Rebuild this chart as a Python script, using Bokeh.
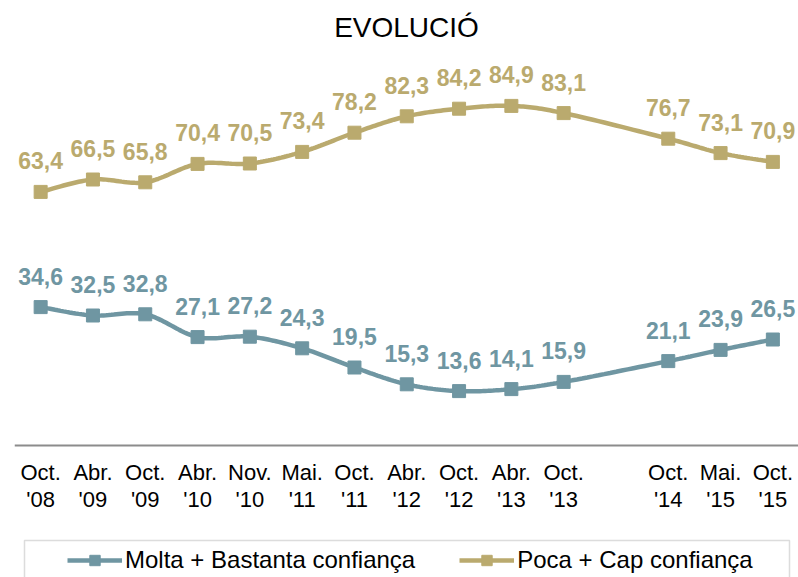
from bokeh.plotting import figure
from bokeh.models import Range1d, Legend, LegendItem, BoxAnnotation, FixedTicker
from bokeh.core.properties import value
from bokeh.embed import file_html
from bokeh.resources import INLINE

categories = ["Oct.\n'08", "Abr.\n'09", "Oct.\n'09", "Abr.\n'10", "Nov.\n'10", "Mai.\n'11",
              "Oct.\n'11", "Abr.\n'12", "Oct.\n'12", "Abr.\n'13", "Oct.\n'13", "",
              "Oct.\n'14", "Mai.\n'15", "Oct.\n'15"]
molta = [34.6, 32.5, 32.8, 27.1, 27.2, 24.3, 19.5, 15.3, 13.6, 14.1, 15.9, None, 21.1, 23.9, 26.5]
poca = [63.4, 66.5, 65.8, 70.4, 70.5, 73.4, 78.2, 82.3, 84.2, 84.9, 83.1, None, 76.7, 73.1, 70.9]
series_names = ["Molta + Bastanta confiança", "Poca + Cap confiança"]
colors = ["#6F96A2", "#BAAA6E"]
FONT = "Liberation Sans"


def smooth(xs, ys, n=20):
    # Catmull-Rom (Excel-like smoothed line) through the points
    px, py = [], []
    m = len(xs)
    for i in range(m - 1):
        x0, y0 = (xs[i - 1], ys[i - 1]) if i > 0 else (xs[i], ys[i])
        x1, y1 = xs[i], ys[i]
        x2, y2 = xs[i + 1], ys[i + 1]
        x3, y3 = (xs[i + 2], ys[i + 2]) if i + 2 < m else (xs[i + 1], ys[i + 1])
        c1x, c1y = x1 + (x2 - x0) / 6, y1 + (y2 - y0) / 6
        c2x, c2y = x2 - (x3 - x1) / 6, y2 - (y3 - y1) / 6
        for k in range(n):
            t = k / n
            a, b, c, d = (1 - t) ** 3, 3 * (1 - t) ** 2 * t, 3 * (1 - t) * t ** 2, t ** 3
            px.append(a * x1 + b * c1x + c * c2x + d * x2)
            py.append(a * y1 + b * c1y + c * c2y + d * y2)
    px.append(xs[-1])
    py.append(ys[-1])
    return px, py


p = figure(width=798, height=577, output_backend="svg", toolbar_location=None,
           x_range=Range1d(-0.5, 14.49), y_range=Range1d(-33, 99.25),
           min_border_left=14, min_border_right=0, min_border_top=48, min_border_bottom=0,
           y_axis_location=None)
p.title.text = "EVOLUCIÓ"
p.title.align = "center"
p.title.text_font = FONT
p.title.text_font_style = "normal"
p.title.text_font_size = "28px"
p.title.text_color = "black"
p.title.standoff = 12
p.outline_line_color = None
p.grid.visible = False

ticks = [i for i, c in enumerate(categories) if c]
p.xaxis.fixed_location = 0
p.xaxis.ticker = FixedTicker(ticks=ticks)
p.xaxis.major_label_overrides = {i: categories[i] for i in ticks}
p.xaxis.major_label_text_font = FONT
p.xaxis.major_label_text_font_size = "22px"
p.xaxis.major_label_text_color = "black"
p.xaxis.major_label_text_line_height = 1.1
p.xaxis.major_label_standoff = 14
p.xaxis.major_tick_out = 0
p.xaxis.major_tick_in = 0
p.xaxis.axis_line_color = "#8C8C8C"
p.xaxis.axis_line_width = 2
p.xaxis.major_tick_line_color = None
p.xaxis.minor_tick_line_color = None

items = []
for name, vals, col in zip(series_names, [molta, poca], colors):
    xs = [i for i, v in enumerate(vals) if v is not None]
    ys = [v for v in vals if v is not None]
    sx, sy = smooth(xs, ys)
    ln = p.line(sx, sy, line_color=col, line_width=4.5)
    mk = p.scatter(xs, ys, marker="square", size=13, fill_color=col, line_color=col)
    p.text(xs, ys, text=[f"{v:.1f}".replace(".", ",") for v in ys],
           text_font=value(FONT), text_font_style="bold", text_font_size="23px",
           text_color=col, text_align="center", text_baseline="middle", y_offset=-31)
    items.append(LegendItem(label=name, renderers=[ln, mk]))

legend = Legend(items=items, orientation="horizontal", location=(53, 3),
                border_line_alpha=0, background_fill_alpha=0, padding=0, margin=0,
                spacing=44, glyph_width=55, glyph_height=26, label_height=26,
                label_standoff=3, label_text_font=FONT, label_text_font_size="24px",
                label_text_color="black")
p.add_layout(legend)

box = BoxAnnotation(left=10, right=775, top=37, bottom=-10,
                    left_units="screen", right_units="screen", top_units="screen", bottom_units="screen",
                    fill_alpha=0, line_color="#8C8C8C", line_width=1.5)
p.add_layout(box)

open("out.html", "w").write(file_html(p, INLINE))
